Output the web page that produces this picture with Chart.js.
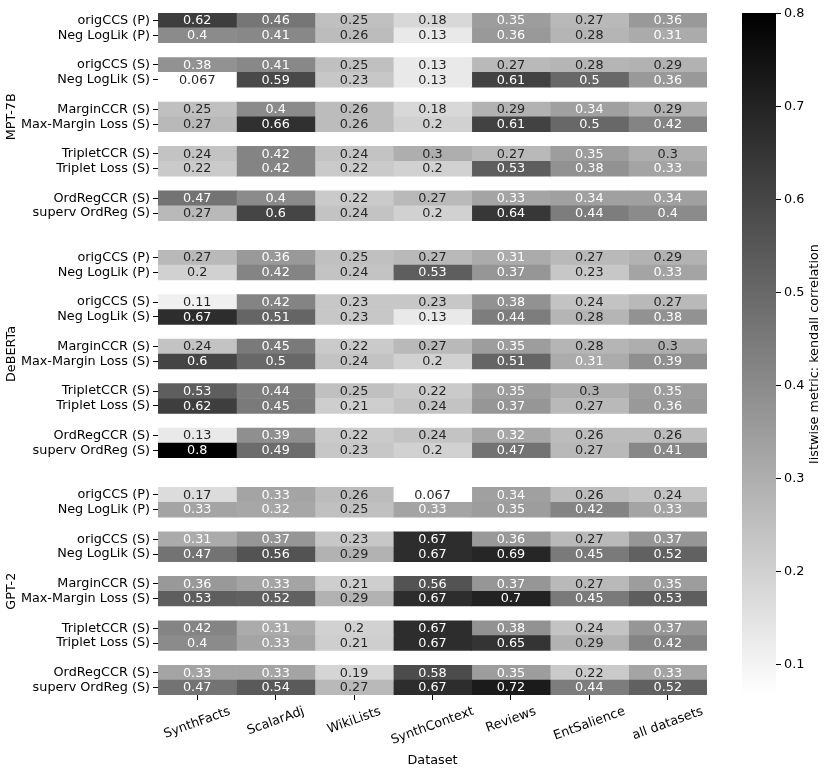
<!DOCTYPE html>
<html><head><meta charset="utf-8">
<script src="https://cdn.jsdelivr.net/npm/chart.js@4.4.1/dist/chart.umd.min.js"></script>
<style>html,body{margin:0;padding:0;background:#fff}canvas{display:block}</style>
</head><body>
<canvas id="c" width="830" height="770"></canvas>
<script>
const datasetNames = ['SynthFacts','ScalarAdj','WikiLists','SynthContext','Reviews','EntSalience','all datasets'];
const methodNames = ['origCCS (P)','Neg LogLik (P)','origCCS (S)','Neg LogLik (S)','MarginCCR (S)','Max-Margin Loss (S)','TripletCCR (S)','Triplet Loss (S)','OrdRegCCR (S)','superv OrdReg (S)'];
const modelNames = ['MPT-7B','DeBERTa','GPT-2'];
const mpt7bValues = [
  [0.62,0.46,0.25,0.18,0.35,0.27,0.36],
  [0.4,0.41,0.26,0.13,0.36,0.28,0.31],
  [0.38,0.41,0.25,0.13,0.27,0.28,0.29],
  [0.067,0.59,0.23,0.13,0.61,0.5,0.36],
  [0.25,0.4,0.26,0.18,0.29,0.34,0.29],
  [0.27,0.66,0.26,0.2,0.61,0.5,0.42],
  [0.24,0.42,0.24,0.3,0.27,0.35,0.3],
  [0.22,0.42,0.22,0.2,0.53,0.38,0.33],
  [0.47,0.4,0.22,0.27,0.33,0.34,0.34],
  [0.27,0.6,0.24,0.2,0.64,0.44,0.4]
];
const debertaValues = [
  [0.27,0.36,0.25,0.27,0.31,0.27,0.29],
  [0.2,0.42,0.24,0.53,0.37,0.23,0.33],
  [0.11,0.42,0.23,0.23,0.38,0.24,0.27],
  [0.67,0.51,0.23,0.13,0.44,0.28,0.38],
  [0.24,0.45,0.22,0.27,0.35,0.28,0.3],
  [0.6,0.5,0.24,0.2,0.51,0.31,0.39],
  [0.53,0.44,0.25,0.22,0.35,0.3,0.35],
  [0.62,0.45,0.21,0.24,0.37,0.27,0.36],
  [0.13,0.39,0.22,0.24,0.32,0.26,0.26],
  [0.8,0.49,0.23,0.2,0.47,0.27,0.41]
];
const gpt2Values = [
  [0.17,0.33,0.26,0.067,0.34,0.26,0.24],
  [0.33,0.32,0.25,0.33,0.35,0.42,0.33],
  [0.31,0.37,0.23,0.67,0.36,0.27,0.37],
  [0.47,0.56,0.29,0.67,0.69,0.45,0.52],
  [0.36,0.33,0.21,0.56,0.37,0.27,0.35],
  [0.53,0.52,0.29,0.67,0.7,0.45,0.53],
  [0.42,0.31,0.2,0.67,0.38,0.24,0.37],
  [0.4,0.33,0.21,0.67,0.65,0.29,0.42],
  [0.33,0.33,0.19,0.58,0.35,0.22,0.33],
  [0.47,0.54,0.27,0.67,0.72,0.44,0.52]
];
const colorbarTicks = [0.1,0.2,0.3,0.4,0.5,0.6,0.7,0.8];
const xAxisTitle = 'Dataset';
const colorbarTitle = 'listwise metric: kendall correlation';

const modelValues = [mpt7bValues, debertaValues, gpt2Values];
const allVals = modelValues.flat(2);
const vmin = Math.min(...allVals), vmax = Math.max(...allVals);

// build row structure (blank separator rows between pairs and models)
const rowLabels = [], rowValues = [], modelBlocks = [];
modelValues.forEach((vals, m) => {
  const start = rowLabels.length;
  for (let g = 0; g < 5; g++) {
    for (let k = 0; k < 2; k++) { rowLabels.push(methodNames[g*2+k]); rowValues.push(vals[g*2+k]); }
    if (g < 4) { rowLabels.push(''); rowValues.push(null); }
  }
  modelBlocks.push([start, rowLabels.length - 1]);
  if (m < modelValues.length - 1) { rowLabels.push(''); rowValues.push(null); rowLabels.push(''); rowValues.push(null); }
});

const FS = 12.8;
const FONT = FS + 'px "DejaVu Sans"';
function grayLevel(v){ let t = (v - vmin) / (vmax - vmin); t = Math.max(0, Math.min(1, t)); let idx = Math.min(255, Math.floor(t*256)); return 1 - idx/255; }
function cellColor(v){ const g = Math.round(grayLevel(v)*255); return `rgb(${g},${g},${g})`; }
function textColor(v){ const g = grayLevel(v); const lin = g <= 0.03928 ? g/12.92 : Math.pow((g+0.055)/1.055, 2.4); return lin > 0.408 ? '#262626' : '#ffffff'; }
function fmt(v){ return Number(v.toPrecision(2)).toString(); }

const heatPlugin = {
  id: 'heat',
  afterDatasetsDraw(chart){
    const {ctx, scales:{x, y}} = chart;
    ctx.save();
    ctx.font = FONT; ctx.textAlign = 'center'; ctx.textBaseline = 'middle';
    rowValues.forEach((vals, r) => {
      if (!vals) return;
      vals.forEach((v, c) => {
        ctx.fillStyle = textColor(v);
        ctx.fillText(fmt(v), x.getPixelForValue(c + 0.5), y.getPixelForValue(r) + 0.5);
      });
    });
    ctx.restore();
  },
  afterDraw(chart){
    const {ctx, chartArea, scales:{x, y}} = chart;
    ctx.save();
    ctx.font = FONT; ctx.fillStyle = '#000';
    // rotated x tick labels
    const ang = 20 * Math.PI / 180, h = FS * 1.165;
    const top = chartArea.bottom + 9;
    let maxBottom = 0;
    datasetNames.forEach((name, c) => {
      const w = ctx.measureText(name).width;
      const bh = w*Math.sin(ang) + h*Math.cos(ang);
      const cx = x.getPixelForValue(c + 0.5), cy = top + bh/2;
      maxBottom = Math.max(maxBottom, top + bh);
      ctx.save(); ctx.translate(cx, cy); ctx.rotate(-ang);
      ctx.textAlign = 'center'; ctx.textBaseline = 'middle';
      ctx.fillText(name, 0, 0); ctx.restore();
    });
    // x axis title
    ctx.textAlign = 'center'; ctx.textBaseline = 'middle';
    ctx.fillText(xAxisTitle, (chartArea.left + chartArea.right)/2, maxBottom + 5 + h/2);
    // model labels
    modelBlocks.forEach(([s, e], m) => {
      const cy = (y.getPixelForValue(s) + y.getPixelForValue(e)) / 2;
      ctx.save(); ctx.translate(12, cy); ctx.rotate(-Math.PI/2);
      ctx.textAlign = 'center'; ctx.textBaseline = 'middle';
      ctx.fillText(modelNames[m], 0, 0); ctx.restore();
    });
    // colorbar
    const cbL = 742, cbW = 34, cbT = chartArea.top, cbB = chartArea.bottom;
    const grad = ctx.createLinearGradient(0, cbT, 0, cbB);
    grad.addColorStop(0, '#000000'); grad.addColorStop(1, '#ffffff');
    ctx.fillStyle = grad; ctx.fillRect(cbL, cbT, cbW, cbB - cbT);
    const vy = v => cbB - (v - vmin)/(vmax - vmin) * (cbB - cbT);
    ctx.strokeStyle = '#000'; ctx.lineWidth = 1; ctx.fillStyle = '#000';
    ctx.textAlign = 'left'; ctx.textBaseline = 'middle';
    colorbarTicks.forEach(t => {
      const py = Math.round(vy(t)) + 0.5;
      ctx.beginPath(); ctx.moveTo(cbL + cbW, py); ctx.lineTo(cbL + cbW + 5, py); ctx.stroke();
      ctx.fillText(String(t), cbL + cbW + 8, py);
    });
    ctx.save(); ctx.translate(815, (cbT + cbB)/2); ctx.rotate(-Math.PI/2);
    ctx.textAlign = 'center'; ctx.textBaseline = 'middle';
    ctx.fillText(colorbarTitle, 0, 0); ctx.restore();
    ctx.restore();
  }
};

Chart.defaults.color = '#000';
Chart.defaults.font.family = '"DejaVu Sans"';
Chart.defaults.font.size = FS;

new Chart(document.getElementById('c'), {
  type: 'bar',
  data: {
    labels: rowLabels,
    datasets: datasetNames.map((name, c) => ({
      label: name,
      data: rowValues.map(v => v ? [c, c + 1] : null),
      backgroundColor: (ctx) => {
        const v = rowValues[ctx.dataIndex];
        return v ? cellColor(v[c]) : 'rgba(0,0,0,0)';
      },
      borderWidth: 0,
      grouped: false,
      categoryPercentage: 1,
      barPercentage: 1
    }))
  },
  options: {
    indexAxis: 'y',
    responsive: false,
    animation: false,
    layout: { padding: { top: 13, right: 123, left: 0, bottom: 0 } },
    plugins: { legend: { display: false }, tooltip: { enabled: false } },
    scales: {
      y: {
        type: 'category',
        offset: true,
        border: { display: false },
        grid: {
          drawOnChartArea: false, drawTicks: true, offset: false, tickLength: 5,
          color: (ctx) => rowLabels[ctx.index] ? '#000' : 'rgba(0,0,0,0)',
          tickColor: (ctx) => rowLabels[ctx.index] ? '#000' : 'rgba(0,0,0,0)',
          lineWidth: 1
        },
        ticks: { autoSkip: false, padding: 3, color: '#000', font: { size: FS, family: '"DejaVu Sans"' } },
        afterFit: (s) => { s.width = 158; }
      },
      x: {
        type: 'linear', min: 0, max: datasetNames.length,
        border: { display: false },
        grid: { drawOnChartArea: false, drawTicks: true, tickLength: 5, color: '#000', lineWidth: 1 },
        ticks: { display: false },
        afterBuildTicks: (s) => { s.ticks = datasetNames.map((n, i) => ({ value: i + 0.5 })); },
        afterFit: (s) => { s.height = 75; }
      }
    }
  },
  plugins: [heatPlugin]
});
</script>
</body></html>
